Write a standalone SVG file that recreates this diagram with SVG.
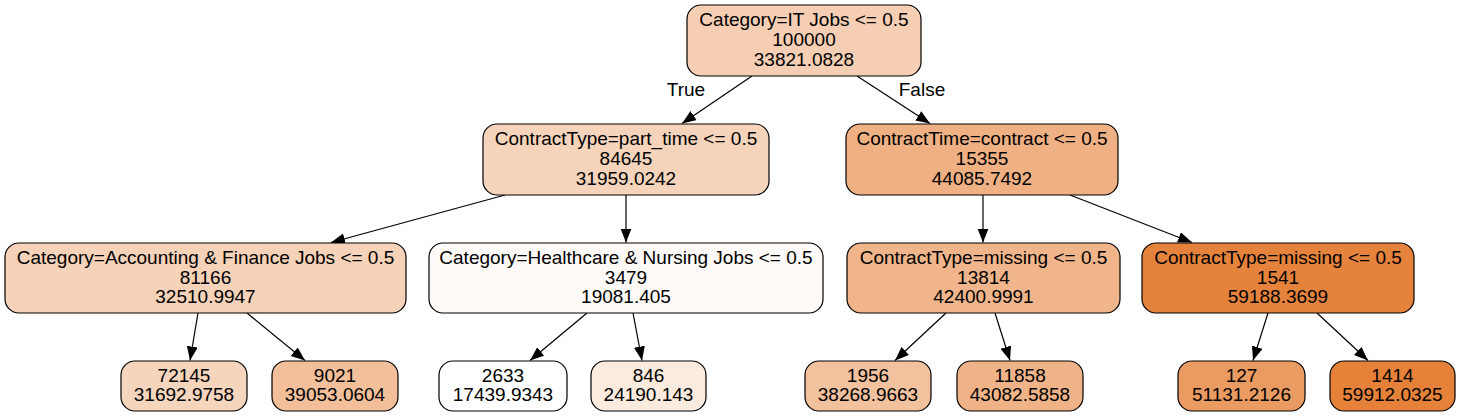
<svg xmlns="http://www.w3.org/2000/svg" width="1461" height="417" viewBox="0 0 1461 417">
<style>
.n rect{stroke:#000;stroke-width:1.2}
text{font-family:"Liberation Sans",Arial,sans-serif;font-size:19px;fill:#000;text-anchor:middle}
.e line{stroke:#000;stroke-width:1.2;marker-end:url(#ah)}
</style>
<defs>
<marker id="ah" markerUnits="userSpaceOnUse" markerWidth="15" markerHeight="12" refX="14" refY="5.5" orient="auto">
<path d="M0,0 L14,5.5 L0,11 z" fill="#000"/>
</marker>
</defs>
<rect width="1461" height="417" fill="#fff"/>
<g class="e" id="edges">
<line x1="752" y1="76" x2="682" y2="123.5"/>
<line x1="857" y1="76" x2="930" y2="123.5"/>
<line x1="505" y1="195" x2="331" y2="242.5"/>
<line x1="626" y1="195" x2="626" y2="242.5"/>
<line x1="983" y1="195" x2="983" y2="242.5"/>
<line x1="1070" y1="195" x2="1192" y2="242.5"/>
<line x1="198" y1="313" x2="190" y2="360.5"/>
<line x1="247" y1="313" x2="305" y2="360.5"/>
<line x1="587" y1="313" x2="530" y2="360.5"/>
<line x1="633" y1="313" x2="642" y2="360.5"/>
<line x1="946" y1="313" x2="895" y2="360.5"/>
<line x1="995" y1="313" x2="1010" y2="360.5"/>
<line x1="1268" y1="313" x2="1253" y2="360.5"/>
<line x1="1317" y1="313" x2="1368" y2="360.5"/>
<text x="686" y="96">True</text>
<text x="922" y="96">False</text>
</g>
<g class="n" id="n0"><rect x="687" y="5" width="234" height="71" rx="14" fill="#f5ceb3"/><text x="804" y="26.4">Category=IT Jobs &lt;= 0.5</text><text x="804" y="46">100000</text><text x="804" y="65.6">33821.0828</text></g>
<g class="n" id="n1"><rect x="483" y="124" width="286" height="71" rx="14" fill="#f6d4bb"/><text x="626" y="145.4">ContractType=part_time &lt;= 0.5</text><text x="626" y="165">84645</text><text x="626" y="184.6">31959.0242</text></g>
<g class="n" id="n2"><rect x="846" y="124" width="272" height="71" rx="14" fill="#efb083"/><text x="982" y="145.4">ContractTime=contract &lt;= 0.5</text><text x="982" y="165">15355</text><text x="982" y="184.6">44085.7492</text></g>
<g class="n" id="n3"><rect x="5" y="243" width="401" height="70" rx="14" fill="#f6d2b9"/><text x="205.5" y="263.9">Category=Accounting &amp; Finance Jobs &lt;= 0.5</text><text x="205.5" y="283.5">81166</text><text x="205.5" y="303.1">32510.9947</text></g>
<g class="n" id="n4"><rect x="429" y="243" width="394" height="70" rx="14" fill="#fefaf7"/><text x="626" y="263.9">Category=Healthcare &amp; Nursing Jobs &lt;= 0.5</text><text x="626" y="283.5">3479</text><text x="626" y="303.1">19081.405</text></g>
<g class="n" id="n5"><rect x="847" y="243" width="273" height="70" rx="14" fill="#f0b58b"/><text x="983.5" y="263.9">ContractType=missing &lt;= 0.5</text><text x="983.5" y="283.5">13814</text><text x="983.5" y="303.1">42400.9991</text></g>
<g class="n" id="n6"><rect x="1142" y="243" width="272" height="70" rx="14" fill="#e5833c"/><text x="1278" y="263.9">ContractType=missing &lt;= 0.5</text><text x="1278" y="283.5">1541</text><text x="1278" y="303.1">59188.3699</text></g>
<g class="n" id="n7"><rect x="121" y="361" width="126" height="50" rx="14" fill="#f6d5bd"/><text x="184" y="381.7">72145</text><text x="184" y="401.3">31692.9758</text></g>
<g class="n" id="n8"><rect x="272" y="361" width="126" height="50" rx="14" fill="#f2bf9a"/><text x="335" y="381.7">9021</text><text x="335" y="401.3">39053.0604</text></g>
<g class="n" id="n9"><rect x="439" y="361" width="128" height="50" rx="14" fill="#ffffff"/><text x="503" y="381.7">2633</text><text x="503" y="401.3">17439.9343</text></g>
<g class="n" id="n10"><rect x="591" y="361" width="115" height="50" rx="14" fill="#fbebdf"/><text x="648.5" y="381.7">846</text><text x="648.5" y="401.3">24190.143</text></g>
<g class="n" id="n11"><rect x="805" y="361" width="126" height="50" rx="14" fill="#f2c19e"/><text x="868" y="381.7">1956</text><text x="868" y="401.3">38268.9663</text></g>
<g class="n" id="n12"><rect x="957" y="361" width="126" height="50" rx="14" fill="#efb387"/><text x="1020" y="381.7">11858</text><text x="1020" y="401.3">43082.5858</text></g>
<g class="n" id="n13"><rect x="1178" y="361" width="127" height="50" rx="14" fill="#ea9b62"/><text x="1241.5" y="381.7">127</text><text x="1241.5" y="401.3">51131.2126</text></g>
<g class="n" id="n14"><rect x="1330" y="361" width="125" height="50" rx="14" fill="#e58139"/><text x="1392.5" y="381.7">1414</text><text x="1392.5" y="401.3">59912.0325</text></g>
</svg>
